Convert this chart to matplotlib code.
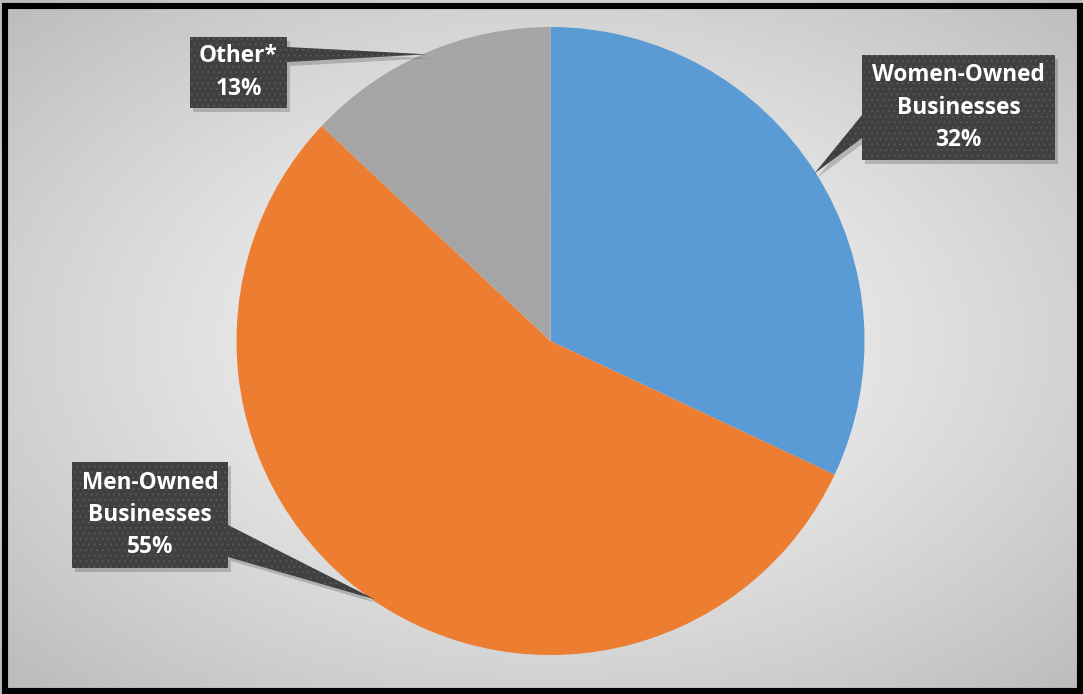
import numpy as np
import matplotlib
matplotlib.use("Agg")
import matplotlib.pyplot as plt
from matplotlib.patches import Polygon, Rectangle


W, H = 1083, 694

categories = ["Women-Owned\nBusinesses", "Men-Owned\nBusinesses", "Other*"]
shares = [32, 55, 13]
colors = ["#5B9BD5", "#ED7D31", "#A5A5A5"]

# callout boxes in pixel coords (left, top, right, bottom), tail base (y0, y1, side)
boxes = [
    ((862, 55, 1055, 160), (115, 138, "left")),
    ((72, 462, 228, 568), (525, 557, "right")),
    ((190, 37, 287, 108), (47, 62, "right")),
]

CX, CY, R = 550.5, 341, 314


def fy(y):
    # pixel row -> data y (data y grows upward)
    return H - y


def configure_plot_font() -> None:
    plt.rcParams["font.family"] = ["Open Sans", "DejaVu Sans"]
    plt.rcParams["hatch.color"] = "#5e5e5e"
    plt.rcParams["hatch.linewidth"] = 0.5


def draw_background(ax):
    yy, xx = np.mgrid[0:H, 0:W]
    r = np.sqrt(((xx - CX) / (W * 0.62)) ** 2 + ((yy - CY) / (H * 0.62)) ** 2)
    v = np.clip(0.97 - 0.20 * r ** 1.3, 0, 1)
    img = np.dstack([v, v, v])
    ax.imshow(img, extent=(0, W, 0, H), origin="upper", zorder=0, interpolation="bilinear")
    ax.add_patch(Rectangle((5, fy(691)), 1075, 685, fill=False, edgecolor="black",
                           linewidth=4.4, zorder=10))


def draw_callout(ax, box, tail, tip, text):
    l, t, r, b = box
    y0, y1, side = tail
    if side == "left":
        pts = [(l, t), (r, t), (r, b), (l, b), (l, y1), tip, (l, y0)]
    else:
        pts = [(l, t), (r, t), (r, y0), tip, (r, y1), (r, b), (l, b)]
    pts = [(x, fy(y)) for x, y in pts]
    shadow = Polygon([(x + 3, y - 4) for x, y in pts], closed=True,
                     facecolor="black", alpha=0.18, edgecolor="none", zorder=4)
    ax.add_patch(shadow)
    ax.add_patch(Polygon(pts, closed=True, facecolor="#404040", edgecolor="#5e5e5e",
                         linewidth=0, hatch="...", zorder=5))
    ax.text((l + r) / 2, fy((t + b) / 2), text, color="white", fontsize=16.3,
            fontweight="bold", ha="center", va="center", linespacing=1.45, zorder=7)


def make_chart():
    configure_plot_font()
    fig = plt.figure(figsize=(W / 100, H / 100), dpi=100)
    ax = fig.add_axes([0, 0, 1, 1])

    draw_background(ax)

    wedges, _ = ax.pie(shares, colors=colors, startangle=90, counterclock=False,
                       center=(CX, fy(CY)), radius=R, frame=True,
                       wedgeprops=dict(linewidth=0, zorder=2))
    ax.set_xlim(0, W)
    ax.set_ylim(0, H)
    ax.set_aspect("auto")
    ax.axis("off")

    for w, cat, val, (box, tail) in zip(wedges, categories, shares, boxes):
        mid = np.deg2rad((w.theta1 + w.theta2) / 2)
        tip = (CX + R * 0.995 * np.cos(mid), CY - R * 0.995 * np.sin(mid))
        draw_callout(ax, box, tail, tip, f"{cat}\n{val}%")

    fig.savefig("out.png", dpi=100)
    plt.close(fig)


if __name__ == "__main__":
    make_chart()
